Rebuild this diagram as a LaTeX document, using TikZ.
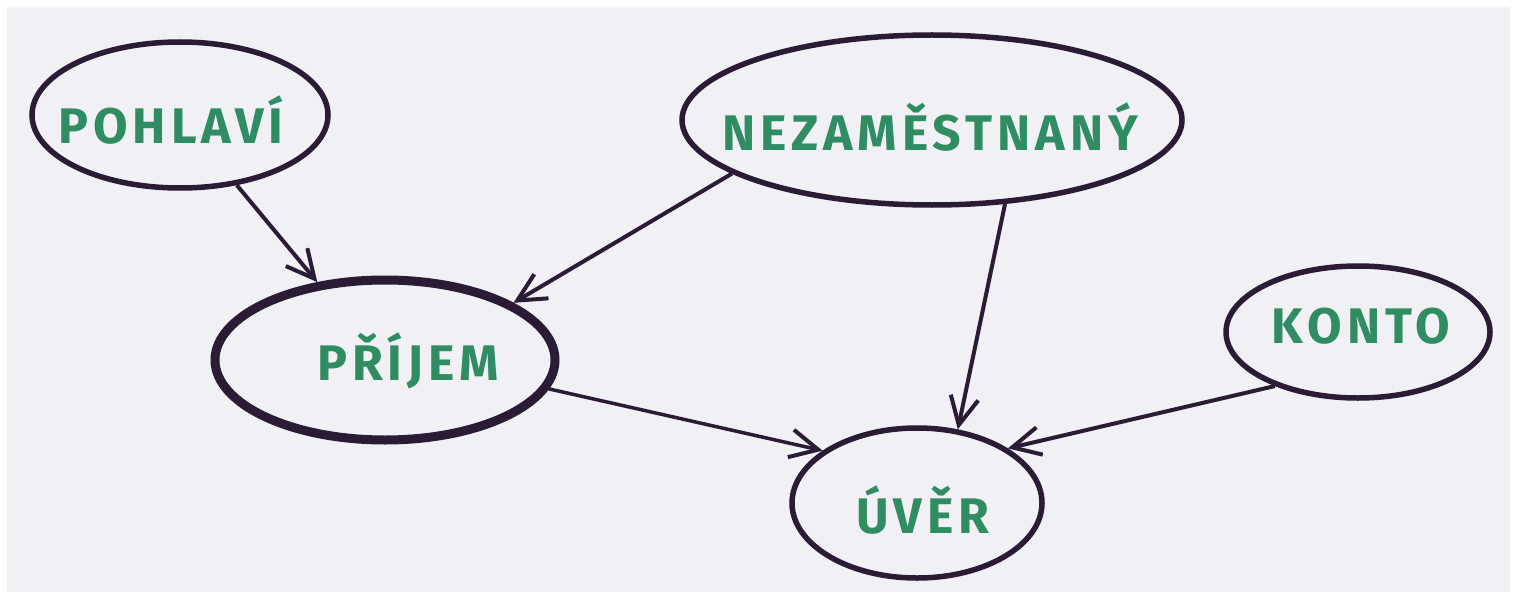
\documentclass[tikz,border=0pt]{standalone}
\usepackage{fontspec}
\setmainfont{Fira Sans}
\usetikzlibrary{shapes.geometric,arrows.meta}
\definecolor{ink}{RGB}{42,28,52}
\definecolor{pen}{RGB}{48,140,98}
\definecolor{paper}{RGB}{241,240,245}
\tikzset{
  bubble/.style={ellipse, draw=ink, line width=5.5pt, inner sep=0pt},
  word/.style={text=pen, anchor=base, inner sep=0pt, font=\fontsize{50}{54}\selectfont\bfseries\addfontfeature{LetterSpace=10}},
  arr/.style={draw=ink, line width=4pt, -{Straight Barb[length=28pt,width=28pt,line width=4pt]}}
}
\begin{document}
\begin{tikzpicture}[x=1pt,y=-1pt]
\useasboundingbox (0,0) rectangle (1517,599);
\fill[white] (0,0) rectangle (1517,599);
\fill[paper] (7,7) rectangle (1510,592);
% ellipses
\node[bubble, minimum width=296pt, minimum height=146pt] (poh) at (180,115) {};
\node[bubble, minimum width=500pt, minimum height=170pt] (nez) at (932,120) {};
\node[bubble, line width=9pt, minimum width=340pt, minimum height=160pt] (pri) at (385,360) {};
\node[bubble, minimum width=250pt, minimum height=150pt] (uve) at (917,503) {};
\node[bubble, minimum width=264pt, minimum height=132pt] (kon) at (1358,332) {};
% texts
\node[word] (pohT) at (171,143) {POHLAVÍ};
\node[word] (nezT) at (930,150) {NEZAMĚSTNANÝ};
\node[word] (priT) at (408,380) {PŘÍJEM};
\node[word] (uveT) at (923,533) {ÚVĚR};
\node[word] (konT) at (1361,343) {KONTO};
% connectors
\draw[arr] (poh.-51) -- (pri.131);
\draw[arr] (nez.-165) -- (pri.24);
\draw[arr] (nez.-49) -- (uve.61);
\draw[arr, line width=3.5pt] (pri.-10) -- (uve.151);
\draw[arr] (kon.-147) -- (uve.31);
\end{tikzpicture}
\end{document}
